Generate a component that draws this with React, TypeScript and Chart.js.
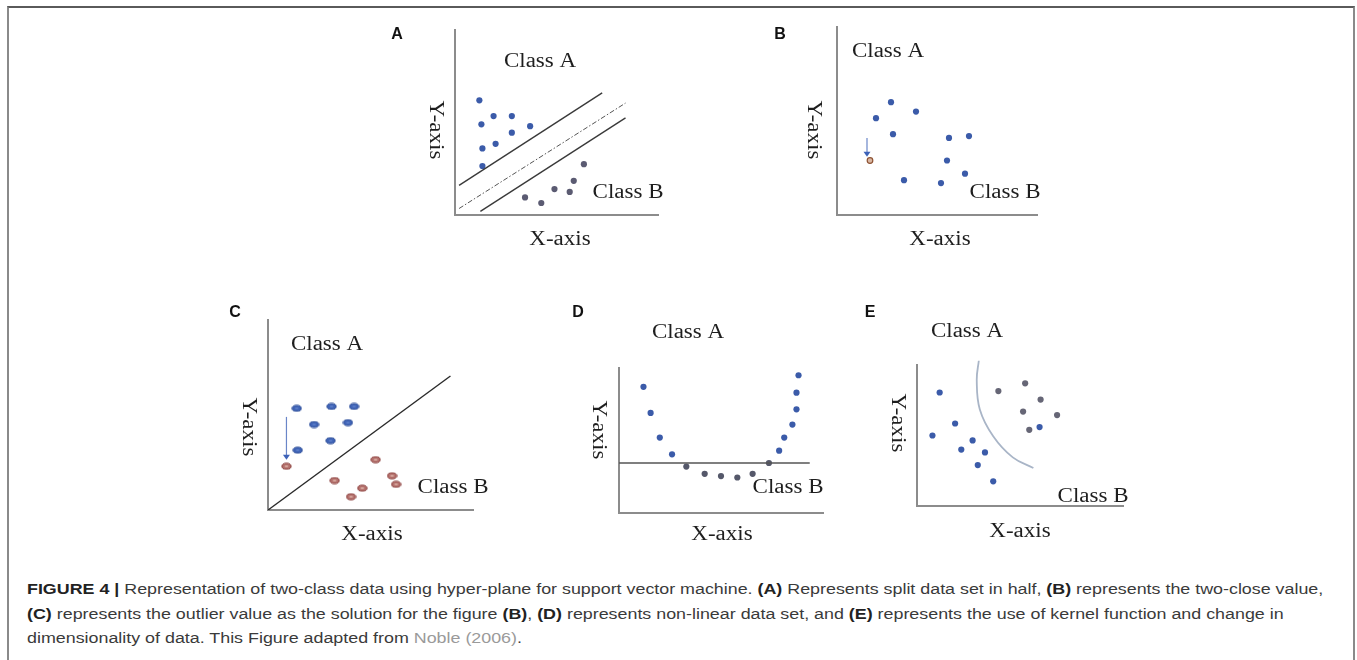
import React, { useEffect, useRef } from "react";
import { Chart, registerables } from "chart.js";

Chart.register(...registerables);

// ---------- DATA (axis units 0..10 in each panel) ----------
// Panel A
const aClassAX = [1.2, 1.3, 1.9, 2.8, 2.8, 3.7, 2.0, 1.35, 1.35];
const aClassAY = [6.2, 4.9, 5.35, 5.35, 4.45, 4.8, 3.85, 3.6, 2.65];
const aClassBX = [3.45, 4.25, 4.9, 5.65, 5.85, 6.35];
const aClassBY = [0.95, 0.65, 1.4, 1.25, 1.85, 2.75];
const aUpperX = [0.2, 7.25];
const aUpperY = [1.6, 6.6];
const aMidX = [0.2, 8.4];
const aMidY = [0.35, 6.05];
const aLowerX = [1.25, 8.4];
const aLowerY = [0.2, 5.25];

// Panel B
const bPointsX = [2.7, 1.95, 3.95, 2.8, 5.6, 6.6, 5.5, 6.4, 3.35, 5.2];
const bPointsY = [6.0, 5.15, 5.5, 4.3, 4.1, 4.2, 2.9, 2.2, 1.85, 1.7];
const bOutlierX = [1.65];
const bOutlierY = [2.9];
const bArrow = [1.5, 4.1, 3.1]; // x, yFrom, yTo

// Panel C
const cClassAX = [1.4, 3.1, 4.2, 2.25, 3.9, 3.05, 1.45];
const cClassAY = [5.35, 5.45, 5.45, 4.5, 4.6, 3.65, 3.15];
const cClassBX = [0.9, 5.25, 3.25, 6.05, 6.25, 4.6, 4.05];
const cClassBY = [2.3, 2.65, 1.55, 1.8, 1.35, 1.15, 0.7];
const cLineX = [0, 8.9];
const cLineY = [0, 7.05];
const cArrow = [0.9, 4.9, 2.65];

// Panel D
const dClassAX = [1.2, 1.55, 2.0, 2.6, 7.85, 8.1, 8.5, 8.7, 8.7, 8.8];
const dClassAY = [8.7, 6.9, 5.2, 4.05, 4.3, 5.2, 6.1, 7.15, 8.3, 9.5];
const dClassBX = [3.3, 4.2, 5.0, 5.8, 6.55, 7.35];
const dClassBY = [3.2, 2.7, 2.55, 2.45, 2.7, 3.45];
const dLineX = [0, 9.35];
const dLineY = [3.45, 3.45];

// Panel E
const eClassAX = [1.1, 1.85, 0.75, 2.7, 2.15, 3.3, 2.95, 3.7, 5.95];
const eClassAY = [8.05, 5.85, 5.0, 4.65, 4.0, 3.8, 2.9, 1.75, 5.6];
const eClassBX = [3.95, 5.25, 6.0, 5.15, 6.8, 5.45];
const eClassBY = [8.15, 8.7, 7.55, 6.7, 6.45, 5.4];
const eCurveX = [3.0, 2.9, 3.05, 3.7, 4.65, 5.65];
const eCurveY = [10.3, 8.95, 6.85, 4.95, 3.45, 2.7];

// ---------- helpers ----------
const W = 1357;
const H = 560;
const BLUE = "#3b5ba9";
const GRAY_PT = "#5b5b72";
const AXIS = "#8c8c8c";
const SERIF = '"Liberation Serif", "Times New Roman", serif';

const pts = (xs: number[], ys: number[]) => xs.map((x, i) => ({ x, y: ys[i] }));

function ellipseImg(fill: string, edge: string, center: string) {
  const c = document.createElement("canvas");
  c.width = 11;
  c.height = 8;
  const g = c.getContext("2d")!;
  g.beginPath();
  g.ellipse(5.5, 4, 4.6, 3, 0, 0, Math.PI * 2);
  g.fillStyle = fill;
  g.fill();
  g.lineWidth = 1;
  g.strokeStyle = edge;
  g.stroke();
  g.beginPath();
  g.ellipse(5.5, 4, 2, 1.1, 0, 0, Math.PI * 2);
  g.fillStyle = center;
  g.fill();
  return c;
}

type TextItem = { t: string; x: number; y: number; kind: "serif" | "label" | "yaxis" };

function drawTexts(ctx: CanvasRenderingContext2D, texts: TextItem[]) {
  ctx.save();
  ctx.fillStyle = "#1e1e1e";
  ctx.textAlign = "center";
  ctx.textBaseline = "middle";
  for (const it of texts) {
    ctx.save();
    ctx.translate(it.x, it.y);
    if (it.kind === "label") {
      ctx.font = 'bold 16px "Liberation Sans", Arial, sans-serif';
      ctx.fillStyle = "#111";
      ctx.fillText(it.t, 0, 0);
    } else {
      if (it.kind === "yaxis") ctx.rotate(Math.PI / 2);
      ctx.scale(1.15, 1);
      ctx.font = `20px ${SERIF}`;
      ctx.fillText(it.t, 0, 0);
    }
    ctx.restore();
  }
  ctx.restore();
}

function drawArrow(chart: any, a: number[]) {
  const ctx = chart.ctx as CanvasRenderingContext2D;
  const xs = chart.scales.x;
  const ys = chart.scales.y;
  const x = xs.getPixelForValue(a[0]);
  const y1 = ys.getPixelForValue(a[1]);
  const y2 = ys.getPixelForValue(a[2]);
  ctx.save();
  ctx.strokeStyle = "#6a86c8";
  ctx.fillStyle = "#3d62b8";
  ctx.lineWidth = 1.2;
  ctx.beginPath();
  ctx.moveTo(x, y1);
  ctx.lineTo(x, y2 - 4);
  ctx.stroke();
  ctx.beginPath();
  ctx.moveTo(x - 3.5, y2 - 5);
  ctx.lineTo(x + 3.5, y2 - 5);
  ctx.lineTo(x, y2);
  ctx.closePath();
  ctx.fill();
  ctx.restore();
}

type PanelCfg = {
  ox: number; // origin x (page px)
  oy: number; // origin y
  top: number;
  right: number;
  datasets: () => any[];
  texts: TextItem[];
  arrows: number[][];
};

const axisOpts = {
  type: "linear",
  min: 0,
  max: 10,
  ticks: { display: false },
  grid: { display: false, drawTicks: false },
  border: { display: true, color: AXIS, width: 2 },
};

const lineDs = (data: any[], color: string, width: number, extra: any = {}) => ({
  data,
  showLine: true,
  borderColor: color,
  borderWidth: width,
  pointRadius: 0,
  fill: false,
  ...extra,
});

const dotDs = (data: any[], color: string, extra: any = {}) => ({
  data,
  showLine: false,
  backgroundColor: color,
  borderColor: color,
  borderWidth: 0,
  pointRadius: 3.1,
  ...extra,
});

const panels: PanelCfg[] = [
  {
    ox: 455, oy: 215, top: 30, right: 658,
    datasets: () => [
      lineDs(pts(aUpperX, aUpperY), "#3a3a3a", 1.4),
      lineDs(pts(aMidX, aMidY), "#555", 1, { borderDash: [5, 2, 1.5, 2] }),
      lineDs(pts(aLowerX, aLowerY), "#3a3a3a", 1.4),
      dotDs(pts(aClassAX, aClassAY), BLUE),
      dotDs(pts(aClassBX, aClassBY), GRAY_PT),
    ],
    texts: [
      { t: "A", x: 397, y: 35, kind: "label" },
      { t: "Class A", x: 540, y: 62, kind: "serif" },
      { t: "Class B", x: 628, y: 193, kind: "serif" },
      { t: "X-axis", x: 560, y: 240, kind: "serif" },
      { t: "Y-axis", x: 435, y: 130, kind: "yaxis" },
    ],
    arrows: [],
  },
  {
    ox: 837, oy: 215, top: 27, right: 1037,
    datasets: () => [
      dotDs(pts(bPointsX, bPointsY), BLUE),
      dotDs(pts(bOutlierX, bOutlierY), "#d9b7a3", { borderColor: "#8e5232", borderWidth: 1.2, pointRadius: 2.8 }),
    ],
    texts: [
      { t: "B", x: 780, y: 35, kind: "label" },
      { t: "Class A", x: 888, y: 52, kind: "serif" },
      { t: "Class B", x: 1005, y: 193, kind: "serif" },
      { t: "X-axis", x: 940, y: 240, kind: "serif" },
      { t: "Y-axis", x: 813, y: 130, kind: "yaxis" },
    ],
    arrows: [bArrow],
  },
  {
    ox: 268, oy: 510, top: 320, right: 473,
    datasets: () => [
      lineDs(pts(cLineX, cLineY), "#2a2a2a", 1.4),
      dotDs(pts(cClassAX, cClassAY), BLUE, {
        pointStyle: ellipseImg("#3f63b6", "#2f4f98", "#5a7cc8"),
      }),
      dotDs(pts(cClassBX, cClassBY), "#b5716f", {
        pointStyle: ellipseImg("#b4706c", "#8a3f3c", "#d8aaa0"),
      }),
    ],
    texts: [
      { t: "C", x: 235, y: 313, kind: "label" },
      { t: "Class A", x: 327, y: 345, kind: "serif" },
      { t: "Class B", x: 453, y: 488, kind: "serif" },
      { t: "X-axis", x: 372, y: 535, kind: "serif" },
      { t: "Y-axis", x: 248, y: 427, kind: "yaxis" },
    ],
    arrows: [cArrow],
  },
  {
    ox: 619, oy: 513, top: 368, right: 823,
    datasets: () => [
      lineDs(pts(dLineX, dLineY), "#555", 1.4),
      dotDs(pts(dClassAX, dClassAY), BLUE),
      dotDs(pts(dClassBX, dClassBY), "#55586a"),
    ],
    texts: [
      { t: "D", x: 578, y: 313, kind: "label" },
      { t: "Class A", x: 688, y: 333, kind: "serif" },
      { t: "Class B", x: 788, y: 488, kind: "serif" },
      { t: "X-axis", x: 722, y: 535, kind: "serif" },
      { t: "Y-axis", x: 598, y: 430, kind: "yaxis" },
    ],
    arrows: [],
  },
  {
    ox: 917, oy: 506, top: 365, right: 1123,
    datasets: () => [
      lineDs(pts(eCurveX, eCurveY), "#a9b5c7", 1.8, { tension: 0.4, clip: false }),
      dotDs(pts(eClassAX, eClassAY), BLUE),
      dotDs(pts(eClassBX, eClassBY), "#666676"),
    ],
    texts: [
      { t: "E", x: 870, y: 313, kind: "label" },
      { t: "Class A", x: 967, y: 332, kind: "serif" },
      { t: "Class B", x: 1093, y: 497, kind: "serif" },
      { t: "X-axis", x: 1020, y: 532, kind: "serif" },
      { t: "Y-axis", x: 897, y: 423, kind: "yaxis" },
    ],
    arrows: [],
  },
];

function Panel({ cfg }: { cfg: PanelCfg }) {
  const ref = useRef<HTMLCanvasElement | null>(null);
  useEffect(() => {
    if (!ref.current) return;
    const chart = new Chart(ref.current, {
      type: "scatter",
      data: { datasets: cfg.datasets() },
      options: {
        animation: false,
        responsive: false,
        events: [],
        layout: {
          autoPadding: false,
          padding: { left: cfg.ox, top: cfg.top, right: W - cfg.right, bottom: H - cfg.oy },
        },
        plugins: { legend: { display: false }, tooltip: { enabled: false } },
        scales: { x: axisOpts as any, y: axisOpts as any },
      },
      plugins: [
        {
          id: "annot",
          afterDatasetsDraw(ch: any) {
            cfg.arrows.forEach((a) => drawArrow(ch, a));
            drawTexts(ch.ctx, cfg.texts);
          },
        },
      ],
    } as any);
    return () => chart.destroy();
  }, [cfg]);
  return (
    <canvas
      ref={ref}
      width={W}
      height={H}
      style={{ position: "absolute", left: 0, top: 0, width: W, height: H }}
    />
  );
}

export default function App() {
  const b = { fontWeight: 700, color: "#222" };
  return (
    <div style={{ position: "absolute", left: 0, top: 0, width: W, height: 660, overflow: "hidden", background: "#fff" }}>
      <div
        style={{
          position: "absolute",
          left: 7,
          top: 6,
          width: 1348,
          height: 720,
          boxSizing: "border-box",
          borderTop: "2px solid #5a5a5a",
          borderLeft: "2px solid #8a8a8a",
          borderRight: "2px solid #8a8a8a",
        }}
      />
      {panels.map((p, i) => (
        <Panel key={i} cfg={p} />
      ))}
      <div
        style={{
          position: "absolute",
          left: 27,
          top: 577,
          font: '15.5px "Liberation Sans", Arial, Helvetica, sans-serif',
          lineHeight: "24.5px",
          color: "#3a3a3a",
          whiteSpace: "nowrap",
          transform: "scaleX(1.152)",
          transformOrigin: "0 0",
        }}
      >
        <div>
          <span style={b}>FIGURE 4 |</span> Representation of two-class data using hyper-plane for support vector machine.{" "}
          <span style={b}>(A)</span> Represents split data set in half, <span style={b}>(B)</span> represents the two-close value,
        </div>
        <div>
          <span style={b}>(C)</span> represents the outlier value as the solution for the figure <span style={b}>(B)</span>,{" "}
          <span style={b}>(D)</span> represents non-linear data set, and <span style={b}>(E)</span> represents the use of kernel function and change in
        </div>
        <div>
          dimensionality of data. This Figure adapted from <span style={{ color: "#9a9a9a" }}>Noble (2006)</span>.
        </div>
      </div>
    </div>
  );
}
